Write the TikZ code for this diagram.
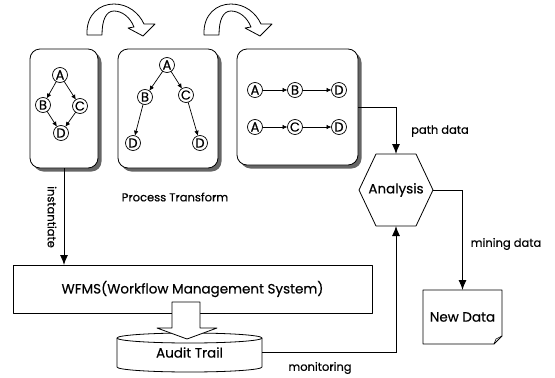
\documentclass[tikz,border=0pt]{standalone}
\usepackage{fontspec}
\setmainfont{Poppins}[FakeBold=0.4]
\usetikzlibrary{arrows.meta,shadows}
\begin{document}
\begin{tikzpicture}[x=1pt,y=-1pt,
  every node/.style={inner sep=0pt, outer sep=0pt},
  procbox/.style={draw, line width=0.8pt, rounded corners=10pt, fill=white,
    drop shadow={shadow xshift=3.5pt, shadow yshift=-3.5pt, fill=black!60, opacity=1}},
  vtx/.style={draw, circle, line width=0.7pt, minimum size=15pt, font=\fontsize{13}{13}\selectfont},
  sarr/.style={-{Latex[length=5pt,width=4.5pt]}, line width=0.7pt},
  barr/.style={-{Latex[length=10pt,width=8pt]}, line width=0.9pt},
  lbl/.style={font=\fontsize{11.5}{13}\selectfont},
  big/.style={font=\fontsize{13.5}{15}\selectfont},
  outline/.style={draw, line width=0.8pt, line join=round},
  blockarrow/.style={draw, fill=white, line width=0.8pt, line join=round},
  curvearrow/.pic={
    \draw[blockarrow] (87,35) .. controls (86,14) and (100,4) .. (114,4)
      .. controls (128,4) and (139,13) .. (144,24) -- (155,24) -- (143,36)
      -- (128,28) -- (134,27) .. controls (130,17) and (122,11) .. (114,11)
      .. controls (106,11) and (102,20) .. (102,35) -- cycle;
  }
]
\useasboundingbox (0,0) rectangle (555,378);

% curved transform arrows
\pic at (0,0) {curvearrow};
\pic at (117,0) {curvearrow};

% process boxes
\node[procbox, minimum width=68pt, minimum height=119pt] (box1) at (64,108.5) {};
\node[procbox, minimum width=100pt, minimum height=119pt] (box2) at (168,108.5) {};
\node[procbox, minimum width=121pt, minimum height=116pt] (box3) at (297.5,107) {};

% graph 1
\node[vtx] (a1) at (60,75) {A};
\node[vtx] (b1) at (43,105) {B};
\node[vtx] (c1) at (80,106) {C};
\node[vtx] (d1) at (61,133) {D};
\draw[sarr] (a1) -- (b1);
\draw[sarr] (a1) -- (c1);
\draw[sarr] (b1) -- (d1);
\draw[sarr] (c1) -- (d1);

% graph 2
\node[vtx] (a2) at (167,65) {A};
\node[vtx] (b2) at (145,97) {B};
\node[vtx] (c2) at (186,95) {C};
\node[vtx] (d2) at (133,143) {D};
\node[vtx] (e2) at (200,143) {D};
\draw[sarr] (a2) -- (b2);
\draw[sarr] (a2) -- (c2);
\draw[sarr] (b2) -- (d2);
\draw[sarr] (c2) -- (e2);

% graph 3
\node[vtx] (a3) at (255,90) {A};
\node[vtx] (b3) at (295,90) {B};
\node[vtx] (d3) at (339,90) {D};
\node[vtx] (a4) at (255,127) {A};
\node[vtx] (c4) at (295,127) {C};
\node[vtx] (d4) at (339,127) {D};
\draw[sarr] (a3) -- (b3);
\draw[sarr] (b3) -- (d3);
\draw[sarr] (a4) -- (c4);
\draw[sarr] (c4) -- (d4);

% labels
\node[lbl] (ptlbl) at (175,197) {Process Transform};
\node[lbl, rotate=-90] (instlbl) at (52,217) {instantiate};
\node[lbl] (pdlbl) at (440,131) {path data};
\node[lbl] (mdlbl) at (506,244) {mining data};
\node[lbl] (monlbl) at (320,368) {monitoring};

% WFMS
\node[outline, minimum width=359pt, minimum height=48pt, big] (wfms) at (192.5,289) {WFMS(Workflow Management System)};

% Audit trail cylinder
\node[minimum width=145pt, minimum height=29pt, big] (audit) at (189.5,352.5) {Audit Trail};
\draw[outline] (audit.north west) -- (audit.south west)
  arc[start angle=180, end angle=360, x radius=72.5pt, y radius=5pt]
  -- (audit.north east);
\draw[outline] (audit.north) ellipse[x radius=72.5pt, y radius=5pt];

% block arrow WFMS -> audit
\draw[blockarrow] (172,302) -- (200,302) -- (200,328) -- (217,328) -- (187,339)
  -- (157,328) -- (172,328) -- cycle;

% Analysis hexagon
\node[minimum width=74pt, minimum height=72pt, big] (ana) at (396,190) {Analysis};
\draw[outline] (ana.west) -- ([xshift=17pt]ana.north west) -- ([xshift=-17pt]ana.north east)
  -- (ana.east) -- ([xshift=-17pt]ana.south east) -- ([xshift=17pt]ana.south west) -- cycle;

% New Data document
\node[minimum width=79pt, minimum height=54pt, big] (nd) at (462.5,317) {New Data};
\draw[outline] (nd.north west) -- (nd.north east) -- ([yshift=8pt]nd.south east)
  -- ([xshift=-8pt]nd.south east) -- (nd.south west) -- cycle;
\draw[line width=0.6pt] ([xshift=-8pt]nd.south east) -- ([xshift=-6pt,yshift=5pt]nd.south east)
  -- ([yshift=8pt]nd.south east);

% connectors
\draw[barr] (box1.south) -- (box1.south |- wfms.north);
\draw[barr] (box3.east) -| (ana.north);
\draw[barr] (ana.east) -| (nd.north);
\draw[barr] (audit.east) -| (ana.south);
\end{tikzpicture}
\end{document}
